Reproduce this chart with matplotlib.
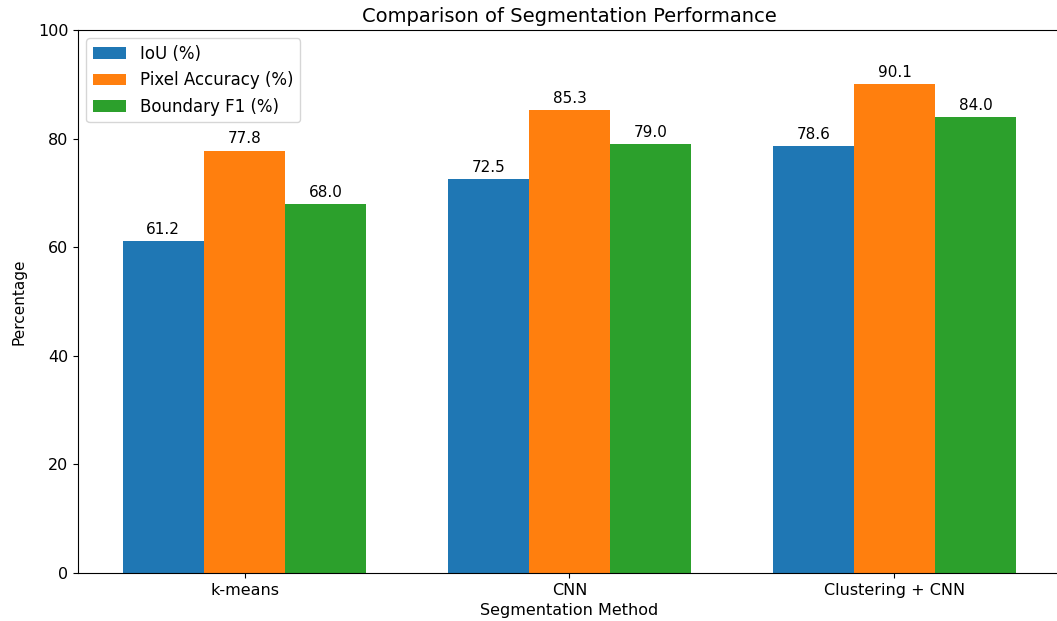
import matplotlib.pyplot as plt
import numpy as np

methods = ["k-means", "CNN", "Clustering + CNN"]
iou = [61.2, 72.5, 78.6]
pixel_acc = [77.8, 85.3, 90.1]
boundary_f1 = [68.0, 79.0, 84.0]
series_labels = ["IoU (%)", "Pixel Accuracy (%)", "Boundary F1 (%)"]

fig = plt.figure(figsize=(10.57, 6.21), dpi=100)
# axes runs slightly past the right edge (reference is cropped there)
ax = fig.add_axes([78 / 1057, 48 / 621, 983 / 1057, 543 / 621])

x = np.arange(len(methods))
width = 0.25
for i, (vals, lab) in enumerate(zip([iou, pixel_acc, boundary_f1], series_labels)):
    bars = ax.bar(x + (i - 1) * width, vals, width, label=lab)
    for b in bars:
        ax.annotate(f"{b.get_height():.1f}",
                    xy=(b.get_x() + b.get_width() / 2, b.get_height()),
                    xytext=(0, 3), textcoords="offset points",
                    ha="center", va="bottom", fontsize=11)

ax.set_ylim(0, 100)
ax.set_xticks(x)
ax.set_xticklabels(methods)
ax.tick_params(labelsize=11.5)
ax.set_xlabel("Segmentation Method", fontsize=11.5)
ax.set_ylabel("Percentage", fontsize=11, labelpad=8)
ax.set_title("Comparison of Segmentation Performance", fontsize=14)
ax.legend(loc="upper left", fontsize=12)

fig.savefig("out.png", dpi=100)
